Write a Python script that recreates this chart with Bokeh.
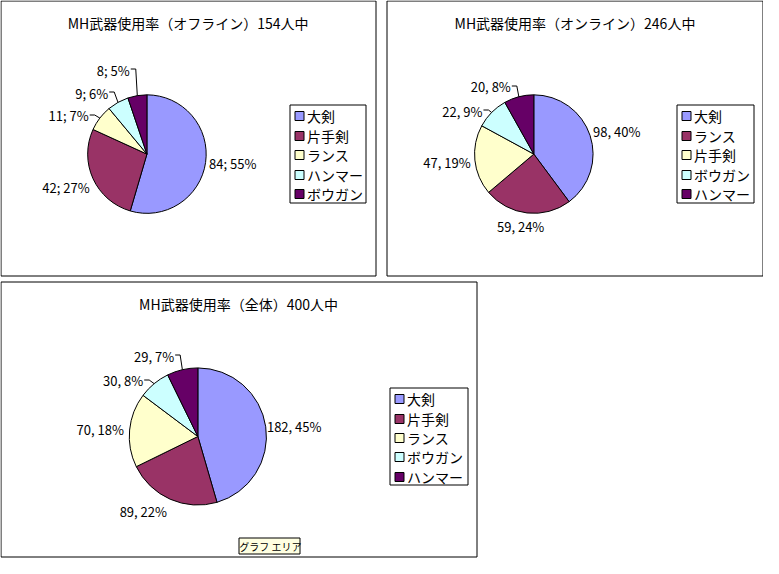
import math
import numpy as np
from bokeh.plotting import figure
from bokeh.models import Range1d, ColumnDataSource
from bokeh.core.properties import value
from bokeh.embed import file_html
from bokeh.resources import INLINE

# ---------------- data ----------------
titles = ["MH武器使用率（オフライン）154人中",
          "MH武器使用率（オンライン）246人中",
          "MH武器使用率（全体）400人中"]
offline_weapons = ["大剣", "片手剣", "ランス", "ハンマー", "ボウガン"]
offline_counts = [84, 42, 11, 9, 8]
offline_pcts = [55, 27, 7, 6, 5]
online_weapons = ["大剣", "ランス", "片手剣", "ボウガン", "ハンマー"]
online_counts = [98, 59, 47, 22, 20]
online_pcts = [40, 24, 19, 9, 8]
total_weapons = ["大剣", "片手剣", "ランス", "ボウガン", "ハンマー"]
total_counts = [182, 89, 70, 30, 29]
total_pcts = [45, 22, 18, 8, 7]
label_seps = ["; ", ", ", ", "]
slice_colors = ["#9999FF", "#993366", "#FFFFCC", "#CCFFFF", "#660066"]
tooltip_text = "グラフ エリア"

# ---------------- layout ----------------
# positions are given on a 779x574 design grid and scaled to fit the canvas
FONT = "Noto Sans CJK JP"
W, H = 763, 558
DW, DH = 779, 574
SX, SY = W / DW, H / DH

def X(dx):
    return dx * SX
def Y(dy):
    return H - dy * SY
def crisp(v, lim):
    return min(max(math.floor(v) + 0.5, 0.5), lim - 0.5)

LAYOUT = [
    dict(box=(0, 0, 383, 283), title=(191.5, 23), center=(149.5, 158), r=60.5,
         legend=(296, 108, 373, 208),
         label_off=[(3.6, 1.4, "left"), (-3.5, 8.9, "right"), (-11.4, -2.3, "right"),
                    (-10, -9.2, "right"), (-7.7, -26.3, "right")],
         leader=[False, False, True, True, True]),
    dict(box=(395, 0, 778, 283), title=(586.5, 23), center=(544.5, 158), r=60.5,
         legend=(691, 108, 769, 208),
         label_off=[(3.1, -4, "left"), (-6.5, 13.9, "center"), (-4.3, 2.8, "right"),
                    (-9.4, -1.5, "right"), (-8.2, -10.5, "right")],
         leader=[False, False, False, True, True]),
    dict(box=(0, 290, 486, 572), title=(243, 312), center=(201.5, 448.5), r=70,
         legend=(398, 399, 477, 498),
         label_off=[(1.2, -0.3, "left"), (-3.2, 12.5, "right"), (-5.8, -0.2, "right"),
                    (-11.2, -2.9, "right"), (-8.4, -13.6, "right")],
         leader=[False, False, False, True, True]),
]
TOOLTIP_BOX = (244, 553, 306, 569)

charts = [
    (offline_weapons, offline_counts, offline_pcts),
    (online_weapons, online_counts, online_pcts),
    (total_weapons, total_counts, total_pcts),
]

p = figure(width=W, height=H, x_range=Range1d(0, W), y_range=Range1d(0, H),
           output_backend="svg", toolbar_location=None, min_border=0,
           x_axis_location=None, y_axis_location=None)
p.grid.grid_line_color = None
p.outline_line_color = None
p.background_fill_color = "white"
p.border_fill_color = "white"

def crisp_quad(box, **kw):
    l, t, r, b = box
    return p.quad(left=[crisp(X(l), W)], right=[crisp(X(r), W)],
                  top=[H - crisp(t * SY, H)], bottom=[H - crisp(b * SY, H)], **kw)

for ci, ((names, counts, pcts), lay) in enumerate(zip(charts, LAYOUT)):
    # chart box
    crisp_quad(lay["box"], fill_color="white", line_color="black", line_width=1)
    # title
    tx, ty = lay["title"]
    p.text(x=[X(tx)], y=[Y(ty)], text=[titles[ci]], text_align="center", text_baseline="middle",
           text_font=value(FONT), text_font_size="14px", text_color="black")

    # pie wedges (clockwise from 12 o'clock)
    cx, cy = lay["center"]
    r = lay["r"] * SX
    vals = np.array(counts, dtype=float)
    cum = np.concatenate([[0], np.cumsum(vals)]) / vals.sum()
    start = np.pi / 2 - 2 * np.pi * cum[1:]
    end = np.pi / 2 - 2 * np.pi * cum[:-1]
    src = ColumnDataSource(dict(x=[X(cx)] * len(vals), y=[Y(cy)] * len(vals),
                                start=start, end=end, color=slice_colors[:len(vals)], name=names))
    p.wedge(x="x", y="y", radius=r, start_angle="start", end_angle="end", fill_color="color",
            line_color="black", line_width=1, source=src)

    # data labels + leader lines (screen coords, y downward)
    scx, scy = X(cx), cy * SY
    mid = (cum[1:] + cum[:-1]) / 2 * 2 * np.pi
    ex = scx + r * np.sin(mid)
    ey = scy - r * np.cos(mid)
    groups = {}
    lx_lines, ly_lines = [], []
    for i in range(len(vals)):
        dx, dy, al = lay["label_off"][i]
        axp, ayp = ex[i] + dx * SX, ey[i] + dy * SY
        lbl = f"{counts[i]}{label_seps[ci]}{pcts[i]}%"
        g = groups.setdefault(al, dict(x=[], y=[], t=[]))
        g["x"].append(axp); g["y"].append(H - ayp); g["t"].append(lbl)
        if lay["leader"][i]:
            yl = math.floor(ayp - 1) + 0.5
            lx_lines.append([axp + 1, axp + 6, ex[i]])
            ly_lines.append([H - yl, H - yl, H - ey[i]])
    for al, g in groups.items():
        p.text(x=g["x"], y=g["y"], text=g["t"], text_align=al, text_baseline="middle",
               text_font=value(FONT), text_font_size="13px", text_color="black")
    if lx_lines:
        p.multi_line(xs=lx_lines, ys=ly_lines, line_color="black", line_width=1)

    # legend
    ll, lt, lr, lb = lay["legend"]
    crisp_quad(lay["legend"], fill_color="white", line_color="black", line_width=1)
    n = len(names)
    rows = [math.floor((lt + 11 + 20 * k) * SY) + 0.5 for k in range(n)]
    sl = math.floor(X(ll + 5)) + 0.5
    p.quad(left=[sl] * n, right=[sl + 9] * n,
           top=[H - (rc - 4.5) for rc in rows], bottom=[H - (rc + 4.5) for rc in rows],
           fill_color=slice_colors[:n], line_color="black", line_width=1)
    p.text(x=[sl + 12] * n, y=[H - rc for rc in rows], text=names,
           text_align="left", text_baseline="middle", text_font=value(FONT),
           text_font_size="14px", text_color="black")

# "グラフ エリア" tooltip
crisp_quad(TOOLTIP_BOX, fill_color="#FFFFE1", line_color="black", line_width=1)
tl, tt, tr, tb = TOOLTIP_BOX
p.text(x=[X((tl + tr) / 2) + 0.5], y=[Y((tt + tb) / 2) - 0.5], text=[tooltip_text],
       text_align="center", text_baseline="middle",
       text_font=value(FONT), text_font_size="10px", text_color="black")

open("out.html", "w").write(file_html(p, INLINE))
